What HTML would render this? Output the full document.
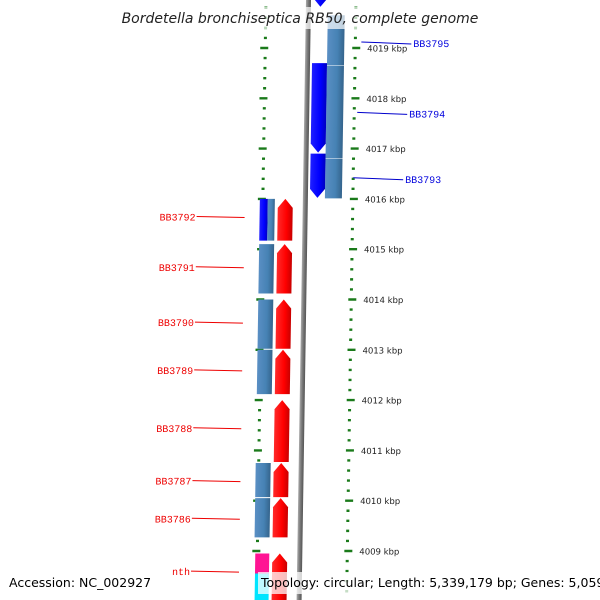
<!DOCTYPE html>
<html><head><meta charset="utf-8"><style>
html,body{margin:0;padding:0;background:#fff;}
svg{display:block;font-family:"DejaVu Sans","Liberation Sans",sans-serif;}
</style></head><body>
<svg id="c" width="600" height="600" viewBox="0 0 600 600">
<defs>
<linearGradient id="gRed" x1="0" x2="1"><stop offset="0" stop-color="#ff2a2a"/><stop offset="0.6" stop-color="#ff0000"/><stop offset="1" stop-color="#c80000"/></linearGradient>
<linearGradient id="gBlue" x1="0" x2="1"><stop offset="0" stop-color="#2020ff"/><stop offset="0.6" stop-color="#0000ff"/><stop offset="1" stop-color="#0000c0"/></linearGradient>
<linearGradient id="gSteel" x1="0" x2="1"><stop offset="0" stop-color="#5a8fc4"/><stop offset="0.6" stop-color="#4682b4"/><stop offset="1" stop-color="#35648c"/></linearGradient>
<linearGradient id="gGray" x1="0" x2="1"><stop offset="0" stop-color="#aaa"/><stop offset="0.5" stop-color="#777"/><stop offset="1" stop-color="#555"/></linearGradient>
</defs>
<g id="plot" transform="skewX(-0.9)"></g>
<rect x="125" y="7" width="350" height="22" fill="#fff" fill-opacity="0.7"/>
<text x="300" y="23" text-anchor="middle" font-size="14" font-style="italic" fill="#222">Bordetella bronchiseptica RB50, complete genome</text>
<text x="9" y="587" font-size="12.5" fill="#000">Accession: NC_002927</text>
<rect x="258" y="572" width="342" height="22" fill="#fff" fill-opacity="0.75"/>
<text x="261" y="587" font-size="12.5" fill="#000">Topology: circular; Length: 5,339,179 bp; Genes: 5,059</text>
</svg>
<script>
// data
const majorTicks = [4019,4018,4017,4016,4015,4014,4013,4012,4011,4010,4009];
const tickLabels = ["4019 kbp","4018 kbp","4017 kbp","4016 kbp","4015 kbp","4014 kbp","4013 kbp","4012 kbp","4011 kbp","4010 kbp","4009 kbp"];
// genes: [start kbp (top), end kbp (bottom)]
const rightBlueGenes = [[4020.3,4019.8],[4018.7,4016.9],[4016.9,4016.0]];
const rightSteelGenes = [[4019.65,4018.65],[4018.65,4016.8],[4016.8,4016.0]];
const leftNames = ["BB3792","BB3791","BB3790","BB3789","BB3788","BB3787","BB3786","nth"];
const leftStart = [4016.0,4015.1,4014.0,4013.0,4012.0,4010.75,4010.05,4008.95];
const leftEnd   = [4015.15,4014.1,4013.0,4012.1,4010.75,4010.05,4009.25,4007.9];
const leftHasSteel = [1,1,1,1,0,1,1,0];
const leftLabelKbp = [4015.65,4014.65,4013.55,4012.6,4011.45,4010.4,4009.65,4008.6];
const rightNames = ["BB3795","BB3794","BB3793"];
const rightLabelKbp = [4019.1,4017.7,4016.4];

const Y0 = 48, PX = 50.3, TOP = 4019;
const yS = k => Y0 + (TOP - k) * PX;
const NS = "http://www.w3.org/2000/svg";
const g = document.getElementById('plot');
function mk(tag, attrs, parent){ const e=document.createElementNS(NS,tag); for(const k in attrs) e.setAttribute(k,attrs[k]); (parent||g).appendChild(e); return e; }
const clampY = y => Math.max(-20, Math.min(620, y));

// backbone
let bb = mk('rect',{x:306,y:-10,width:5,height:630,fill:'url(#gGray)'});



// rulers
const RX = 356, LX = 266;
for (let k = 4021; k >= 4007; k -= 0.2) {
  const kk = Math.round(k*10)/10;
  const y = yS(kk);
  if (y < -5 || y > 605) continue;
  const major = Math.abs(kk - Math.round(kk)) < 0.01;
  const w = major ? 8 : 3;
  let r = mk('rect',{x:RX-w/2+ (major?1:0), y:y-1.2, width:w, height:2.4, fill:'#1a7a1a'});
  
  
  let l = mk('rect',{x:LX-w/2- (major?1:0), y:y-1.2, width:w, height:2.4, fill:'#1a7a1a'});
  
  
}
majorTicks.forEach((k,i)=>{
  let t = mk('text',{x:RX+12,y:yS(k)+3.5,'font-size':8.5,fill:'#222'});
  t.textContent = tickLabels[i];
  
  
});

function arrowDown(x,w,y1,y2,fill,name){
  y1=clampY(y1); y2=clampY(y2);
  const h=Math.min(9,(y2-y1)/2);
  const d=`M${x},${y1} H${x+w} V${y2-h} L${x+w/2},${y2} L${x},${y2-h} Z`;
  let p=mk('path',{d,fill});
  
  
}
function arrowUp(x,w,y1,y2,fill,name){
  y1=clampY(y1); y2=clampY(y2);
  const h=Math.min(9,(y2-y1)/2);
  const d=`M${x},${y1+h} L${x+w/2},${y1} L${x+w},${y1+h} V${y2} H${x} Z`;
  let p=mk('path',{d,fill});
  
  
}
function box(x,w,y1,y2,fill,name){
  y1=clampY(y1); y2=clampY(y2);
  let r=mk('rect',{x,y:y1,width:w,height:y2-y1,fill});
  
  
}

// right column
rightSteelGenes.forEach((gn,i)=>box(328,17,yS(gn[0]),yS(gn[1])-0.5,'url(#gSteel)','right-steel-gene-'+i));
rightBlueGenes.forEach((gn,i)=>arrowDown(313,15,yS(gn[0]),yS(gn[1])-1,'url(#gBlue)','right-blue-gene-'+i));
rightNames.forEach((n,i)=>{
  const y=yS(rightLabelKbp[i]);
  let ln=mk('line',{x1:362-(i*3),y1:y-1,x2:412-(i*3),y2:y+1,stroke:'#0000cc','stroke-width':1});
  
  
  let t=mk('text',{x:414-(i*3),y:y+4,'font-size':10,fill:'#0000dd','font-family':'Liberation Mono, monospace'});
  t.textContent=n;
  
  
});

// left column
leftNames.forEach((n,i)=>{
  const y1=yS(leftStart[i]), y2=yS(leftEnd[i]);
  if (leftHasSteel[i]) {
    if (i===0){ box(263,8,y1,y2-1,'url(#gBlue)','left-blue-gene-'+n); box(271,7,y1,y2-1,'url(#gSteel)','left-steel-gene-'+n); }
    else box(263,15,y1,y2-1,'url(#gSteel)','left-steel-gene-'+n);
  }
  if (n==='nth'){ box(264,14,y1,y1+20,'#ff1493','left-magenta-gene-nth'); box(264,14,y1+20,y2,'#00e5ff','left-cyan-gene'); }
  arrowUp(281,15,y1,y2-1,'url(#gRed)','left-red-gene-'+n);
  const ly=yS(leftLabelKbp[i]);
  let ln=mk('line',{x1:200,y1:ly,x2:248,y2:ly+1,stroke:'#e00','stroke-width':1});
  
  
  let t=mk('text',{x:199,y:ly+4,'font-size':10,fill:'#e00','text-anchor':'end','font-family':'Liberation Mono, monospace'});
  t.textContent=n;
  
  
});
</script>
</body></html>
